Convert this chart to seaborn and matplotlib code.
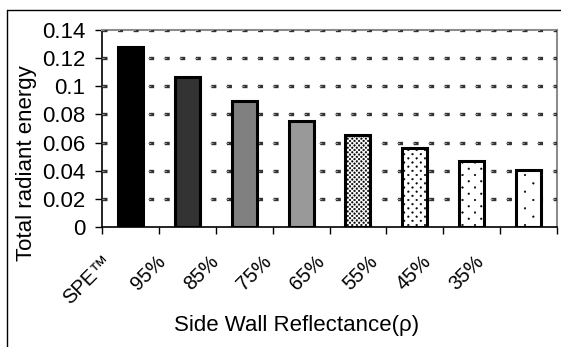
import matplotlib
matplotlib.use("Agg")
import matplotlib.pyplot as plt
import matplotlib.hatch as mhatch
from matplotlib.path import Path
from matplotlib.lines import Line2D
import seaborn as sns
import pandas as pd
import numpy as np

categories = ["SPE\u2122", "95%", "85%", "75%", "65%", "55%", "45%", "35%"]
energy = [0.128, 0.1066, 0.0895, 0.0753, 0.0654, 0.0561, 0.0469, 0.0405]
face_colors = ["#000000", "#333333", "#808080", "#999999",
               "#ffffff", "#ffffff", "#ffffff", "#ffffff"]
hatches = [None, None, None, None, "....", "...", "..", "."]
y_ticks = [0, 0.02, 0.04, 0.06, 0.08, 0.1, 0.12, 0.14]
y_tick_labels = ["0", "0.02", "0.04", "0.06", "0.08", "0.1", "0.12", "0.14"]

# category labels sit on a slightly tighter pitch than the bars
LABEL_X0 = -0.375
LABEL_STEP = 0.9336

# dots per hatch tile row, indexed by the number of '.' in a hatch string
DOTS_PER_ROW = [0, 6, 8, 12, 22]
DOT_RADIUS = 0.0085


class DotLattice(mhatch.HatchPatternBase):
    """Small fixed-size dots on a staggered lattice (rows at half spacing)."""

    def __init__(self, hatch, density):
        count = min(hatch.count("."), len(DOTS_PER_ROW) - 1)
        self.n = DOTS_PER_ROW[count]
        circ = Path.unit_circle()
        self.circ_v = circ.vertices
        self.circ_c = circ.codes
        if self.n == 0:
            self.num_vertices = 0
        else:
            n = self.n
            shapes = (n + 1) * (n + 1) + n * n
            self.num_vertices = shapes * len(self.circ_v)

    def set_vertices_and_codes(self, vertices, codes):
        n = self.n
        step = 1.0 / n
        shape = self.circ_v * DOT_RADIUS
        parts_v, parts_c = [], []
        for row in range(2 * n + 1):
            if row % 2 == 0:
                cols = np.linspace(0, 1, n + 1)
            else:
                cols = np.linspace(step / 2, 1 - step / 2, n)
            y = row * step / 2
            for x in cols:
                parts_v.append(shape + [x, y])
                parts_c.append(self.circ_c)
        vertices[:] = np.concatenate(parts_v)
        codes[:] = np.concatenate(parts_c)


mhatch._hatch_types = [DotLattice if t is mhatch.SmallFilledCircles else t
                       for t in mhatch._hatch_types]

sns.set_theme(style="white")
plt.rcParams["font.family"] = ["Liberation Sans", "DejaVu Sans"]
plt.rcParams["text.color"] = "black"
plt.rcParams["xtick.color"] = "black"
plt.rcParams["ytick.color"] = "black"
plt.rcParams["lines.scale_dashes"] = False
plt.rcParams["hatch.color"] = "#222222"
plt.rcParams["hatch.linewidth"] = 0.3

FS = 16
FS_CAT = 14.5

df = pd.DataFrame({"cat": categories, "val": energy})

fig = plt.figure(figsize=(5.61, 3.47), dpi=100)
ax = fig.add_axes([102 / 561, 1 - 227 / 347, 455 / 561, 197 / 347])

sns.barplot(data=df, x="cat", y="val", ax=ax, width=0.44,
            color="white", saturation=1, zorder=3)

for patch, fc, h in zip(ax.patches, face_colors, hatches):
    patch.set_facecolor(fc)
    patch.set_edgecolor("black")
    patch.set_linewidth(2.2)
    if h:
        patch.set_hatch(h)

ax.set_ylim(0, 0.14)
ax.set_xlim(-0.5, len(categories) - 0.5)
ax.set_yticks(y_ticks)
ax.set_yticklabels(y_tick_labels, fontsize=FS)

# dashed gridlines: dark outline with a grey core
for yv in y_ticks[1:]:
    ax.axhline(yv, color="#333333", lw=2.4, linestyle=(0, (3.6, 7.6)), zorder=2.7)
    ax.axhline(yv, color="#9a9a9a", lw=0.7, linestyle=(0.7, (2.2, 9.0)), zorder=2.8)

label_pos = LABEL_X0 + LABEL_STEP * np.arange(len(categories))
ax.set_xticks(label_pos)
ax.set_xticklabels(categories, rotation=45, ha="right", va="center",
                   rotation_mode="anchor", fontsize=FS_CAT)
ax.tick_params(axis="x", which="major", length=0, pad=23)
ax.set_xticks(np.arange(-0.5, len(categories), 1), minor=True)
ax.tick_params(axis="x", which="minor", length=5, width=1, color="black",
               direction="out", bottom=True)
ax.tick_params(axis="y", length=5, width=1, color="black", direction="out",
               left=True, pad=7)

ax.set_xlabel("")
ax.set_ylabel("")
for side in ["left", "bottom"]:
    ax.spines[side].set_color("black")
    ax.spines[side].set_linewidth(1.2)
for side in ["top", "right"]:
    ax.spines[side].set_color("#8c8c8c")
    ax.spines[side].set_linewidth(1.5)
    ax.spines[side].set_visible(True)

fig.text(297 / 561, 1 - 325 / 347, "Side Wall Reflectance(\u03c1)",
         ha="center", va="center", fontsize=FS)
fig.text(27 / 561, 1 - 163 / 347, "Total radiant energy", rotation=90,
         ha="center", va="center", fontsize=FS)

# outer frame along the top and left edges
fig.add_artist(Line2D([7 / 561, 7 / 561], [0, 1 - 10 / 347],
                      transform=fig.transFigure, color="black", lw=1))
fig.add_artist(Line2D([7 / 561, 1], [1 - 10 / 347, 1 - 10 / 347],
                      transform=fig.transFigure, color="black", lw=1))

fig.savefig("out.png", dpi=100)
